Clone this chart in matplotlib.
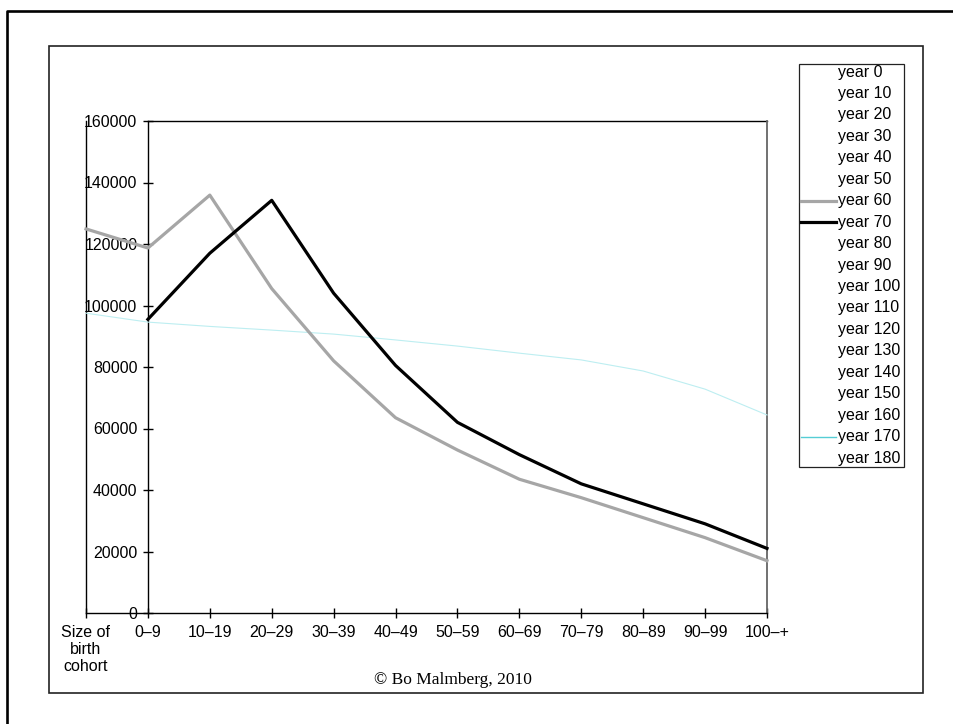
import matplotlib
matplotlib.use("Agg")
import matplotlib.pyplot as plt
from matplotlib.lines import Line2D
from matplotlib.patches import Rectangle

plt.rcParams['font.family'] = ['Liberation Sans', 'DejaVu Sans']

# ---- data ----
categories = ["Size of\nbirth\ncohort", "0\u20139", "10\u201319", "20\u201329", "30\u201339",
              "40\u201349", "50\u201359", "60\u201369", "70\u201379", "80\u201389",
              "90\u201399", "100\u2013+"]
year60 = [124900, 118700, 135900, 105500, 82000, 63500, 53000, 43500, 37500, 31000, 24500, 17000]
year70 = [None, 95500, 117000, 134200, 104000, 80500, 62000, 51500, 42000, 35500, 29000, 21000]
year170 = [97500, 94600, 93200, 92000, 90700, 88800, 86800, 84500, 82300, 78700, 72800, 64400]
legend_years = list(range(0, 190, 10))
yticks = [0, 20000, 40000, 60000, 80000, 100000, 120000, 140000, 160000]

W, H = 954, 724
fig = plt.figure(figsize=(W / 100, H / 100), dpi=100)

def fx(x):
    return x / W

def fy(y):
    return 1 - y / H

# outer frame (top and left edges)
fig.add_artist(Line2D([fx(7), fx(7), 1.01], [-0.01, fy(11), fy(11)], color='black', lw=1.9))
# inner box
fig.add_artist(Rectangle((fx(49), fy(693)), fx(923) - fx(49), fy(46) - fy(693),
                         fill=False, edgecolor='#222222', lw=1.2))

ax = fig.add_axes([fx(86), fy(613), fx(767) - fx(86), fy(121) - fy(613)])
ax.set_facecolor('none')
ax.set_xlim(0, len(categories) - 1)
ax.set_ylim(0, 160000)

for s in ['top', 'right']:
    ax.spines[s].set_visible(False)
ax.spines['left'].set_position(('data', 1))
ax.spines['left'].set_linewidth(1.0)
ax.spines['bottom'].set_linewidth(1.0)

ax.plot([1, len(categories) - 1], [160000, 160000], color='black', lw=1.0, clip_on=False)
ax.plot([0, 0], [0, 160000], color='black', lw=1.0, clip_on=False)
ax.plot([len(categories) - 1] * 2, [0, 160000], color='#666666', lw=1.3, clip_on=False)

xs = list(range(len(categories)))
ax.plot(xs, year170, color='#bdeef1', lw=0.8, clip_on=False, zorder=3)
ax.plot(xs, year60, color='#a6a6a6', lw=2.3, clip_on=False, zorder=4)
x70 = [x for x, v in zip(xs, year70) if v is not None]
v70 = [v for v in year70 if v is not None]
ax.plot(x70, v70, color='black', lw=2.3, clip_on=False, zorder=5)

ax.set_xticks(xs)
ax.set_xticklabels(categories, fontsize=11.5, linespacing=1.17, va='top')
ax.set_yticks(yticks)
ax.set_yticklabels([str(v) for v in yticks], fontsize=11.5)
ax.tick_params(axis='x', direction='inout', length=7, width=1.0, pad=5)
ax.tick_params(axis='y', direction='inout', length=7, width=1.0, pad=4)

# legend (drawn manually)
fig.add_artist(Rectangle((fx(799), fy(467)), fx(904) - fx(799), fy(64) - fy(467),
                         fill=False, edgecolor='#222222', lw=0.9))
styles = {60: ('#a6a6a6', 2.3), 70: ('black', 2.3), 170: ('#55cdd5', 1.0)}
for i, yr in enumerate(legend_years):
    yy = 72 + i * 21.45
    fig.text(fx(838), fy(yy), f"year {yr}", fontsize=11.5, va='center', ha='left')
    if yr in styles:
        c, lw = styles[yr]
        fig.add_artist(Line2D([fx(801), fx(836)], [fy(yy), fy(yy)], color=c, lw=lw))

fig.text(fx(453), fy(680), "\u00a9 Bo Malmberg, 2010", fontsize=12.5, ha='center', va='center',
         family=['Liberation Serif', 'DejaVu Serif'])

fig.savefig("out.png", dpi=100)
